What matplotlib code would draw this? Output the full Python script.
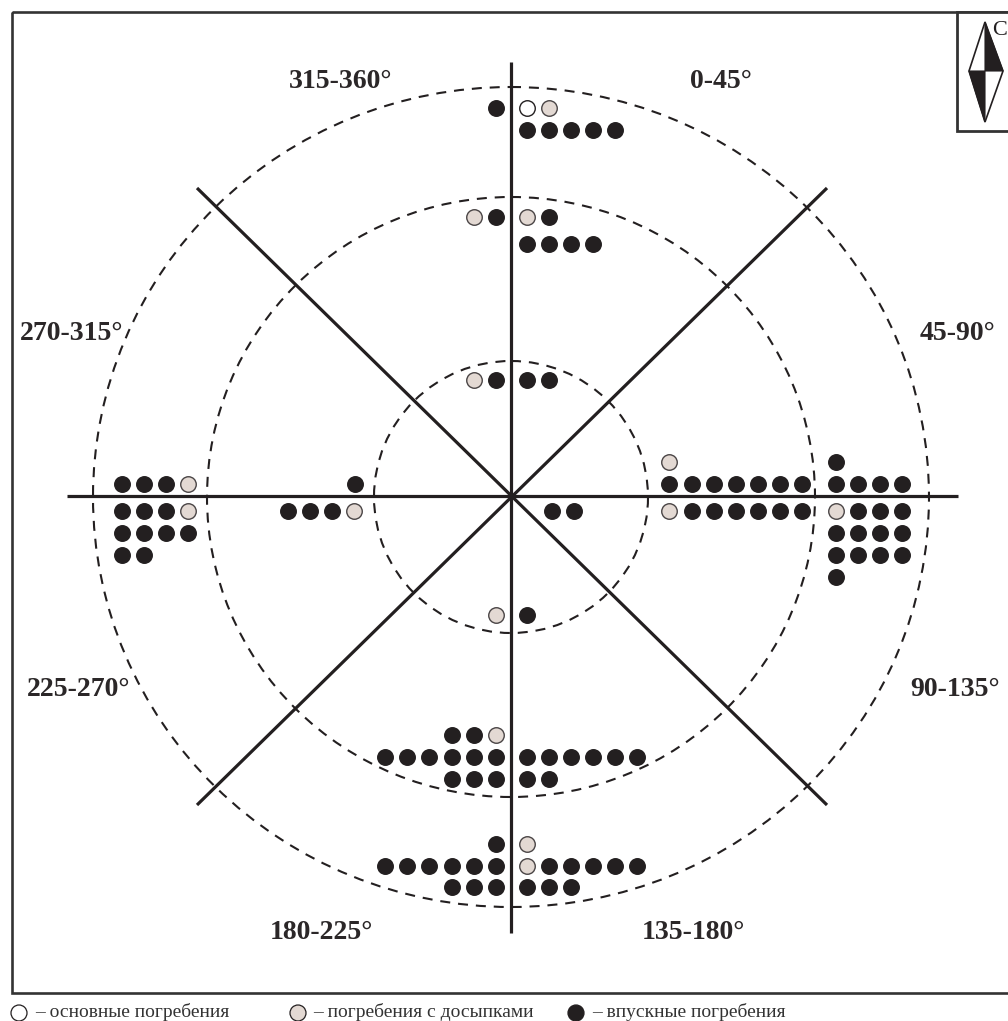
import matplotlib
matplotlib.use("Agg")
import matplotlib.pyplot as plt
from matplotlib.patches import Ellipse, Rectangle, Polygon

W, H = 1008, 1021
CX, CY = 511, 496

# rows of burials, as (y offset, [x offsets]) from the diagram centre
basic_rows = [(-388, [16])]
fill_rows = [
    (-388, [38]), (-279, [-37, 16]), (-116, [-37]),
    (-34, [158]), (15, [158]), (15, [325]),
    (-12, [-323]), (15, [-323]), (15, [-157]),
    (119, [-15]), (239, [-15]), (348, [16]), (370, [16]),
]
intrusive_rows = [
    (-388, [-15]), (-366, [16, 38, 60, 82, 104]),
    (-279, [-15, 38]), (-252, [16, 38, 60, 82]),
    (-116, [-15, 16, 38]),
    (-12, [158, 181, 203, 225, 247, 269, 291]),
    (15, [181, 203, 225, 247, 269, 291]),
    (-34, [325]), (-12, [325, 347, 369, 391]), (15, [347, 369, 391]),
    (37, [325, 347, 369, 391]), (59, [325, 347, 369, 391]), (81, [325]),
    (15, [41, 63]),
    (-12, [-156]), (15, [-223, -201, -179]),
    (-12, [-389, -367, -345]), (15, [-389, -367, -345]),
    (37, [-389, -367, -345, -323]), (59, [-389, -367]),
    (119, [16]),
    (239, [-59, -37]),
    (261, [-126, -104, -82, -59, -37, -15, 16, 38, 60, 82, 104, 126]),
    (283, [-59, -37, -15, 16, 38]),
    (348, [-15]),
    (370, [-126, -104, -82, -59, -37, -15, 38, 60, 82, 104, 126]),
    (391, [-59, -37, -15, 16, 38, 60]),
]
ring_rx = [137, 304, 418]
ring_ry = [136, 300, 410]
sector_labels = ["0-45°", "45-90°", "90-135°", "135-180°", "180-225°",
                 "225-270°", "270-315°", "315-360°"]
legend_labels = ["– основные погребения", "– погребения с досыпками",
                 "– впускные погребения"]

BLACK = "#231f20"
GREY = "#e3d9d3"
SERIF = ["Liberation Serif", "DejaVu Serif"]

fig = plt.figure(figsize=(W / 100, H / 100), dpi=100)
ax = fig.add_axes([0, 0, 1, 1])
ax.set_xlim(-CX, W - CX)
ax.set_ylim(H - CY, -CY)
ax.axis("off")

# frame
ax.add_patch(Rectangle((12 - CX, 12 - CY), 1010, 981, fc="none", ec="#333333", lw=1.9))

# rings
for rx, ry in zip(ring_rx, ring_ry):
    ax.add_patch(Ellipse((0, 1), 2 * rx, 2 * ry, fc="none", ec=BLACK, lw=1.5,
                         ls=(0, (4.8, 3.8))))

# spokes
for xs, ys in [((0, 0), (-434, 437)), ((-444, 447), (0, 0)),
               ((-314, 316), (-308, 309)), ((-314, 316), (309, -308))]:
    ax.plot(xs, ys, color=BLACK, lw=2.3, solid_capstyle="butt")


def draw(rows, face, edge, size, lw):
    xs = [x for _, row in rows for x in row]
    ys = [y for y, row in rows for _ in row]
    ax.scatter(xs, ys, s=size, c=face, edgecolors=edge, linewidths=lw, zorder=3)


draw(basic_rows, "white", BLACK, 125, 1.0)
draw(fill_rows, GREY, "#4a4546", 125, 1.0)
draw(intrusive_rows, BLACK, BLACK, 125, 1.0)

# sector labels
label_pos = [(210, -414), (446, -163), (444, 193), (182, 436), (-190, 436),
             (-432, 193), (-439, -163), (-170, -414)]
for lab, (x, y) in zip(sector_labels, label_pos):
    ax.text(x, y, lab, family=SERIF, weight="bold", fontsize=20, ha="center",
            va="center", color="#2b2728")

# compass
ax.add_patch(Rectangle((957 - CX, 12 - CY), 60, 119, fc="white", ec="#333333", lw=2, zorder=4))
T, B, L, R, M = (985 - CX, 22 - CY), (985 - CX, 122 - CY), (969 - CX, 71 - CY), (1003 - CX, 71 - CY), (985 - CX, 71 - CY)
ax.add_patch(Polygon([T, L, B, R], closed=True, fc="white", ec=BLACK, lw=1.2, zorder=5))
ax.add_patch(Polygon([T, R, M], closed=True, fc=BLACK, ec=BLACK, lw=0.8, zorder=6))
ax.add_patch(Polygon([B, L, M], closed=True, fc=BLACK, ec=BLACK, lw=0.8, zorder=6))
ax.text(1000 - CX, 31 - CY, "С", family=SERIF, fontsize=16, ha="center", va="center",
        color=BLACK, zorder=6)

# legend
legend_y = 1013 - CY
for lab, mx, tx, face in zip(legend_labels, (19, 298, 576), (35, 313, 592),
                             ("white", GREY, BLACK)):
    ax.add_patch(Ellipse((mx - CX, legend_y), 16, 16, fc=face, ec=BLACK, lw=0.9, clip_on=False))
    ax.text(tx - CX, legend_y - 1, lab, family=SERIF, fontsize=14, ha="left", va="center",
            color="#333333")

fig.savefig("out.png", dpi=100)
